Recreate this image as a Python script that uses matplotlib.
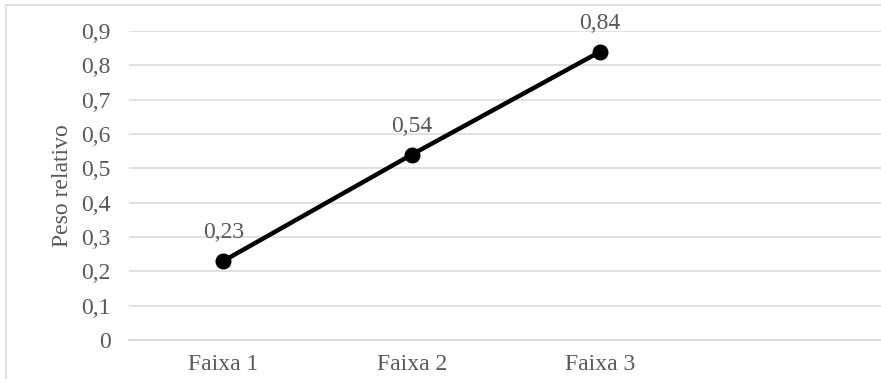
import matplotlib
matplotlib.use('Agg')
from matplotlib import pyplot as plt
from matplotlib.patches import Rectangle

categories = ['Faixa 1', 'Faixa 2', 'Faixa 3']
values = [0.23, 0.54, 0.84]
labels = ['0,23', '0,54', '0,84']
yticks = [0, 0.1, 0.2, 0.3, 0.4, 0.5, 0.6, 0.7, 0.8, 0.9]
ytick_labels = ['0', '0,1', '0,2', '0,3', '0,4', '0,5', '0,6', '0,7', '0,8', '0,9']

TEXT = '#595959'
GRID = '#d9d9d9'
W, H = 881, 379
FS = 17

plt.rcParams['font.family'] = ['Liberation Serif', 'DejaVu Serif']

fig = plt.figure(figsize=(W / 100, H / 100), dpi=100)

# light chart border, cropped at right and bottom like the original
fig.patches.append(Rectangle((6 / W, -0.1), 1.1, 1 - 5 / H + 0.1,
                             transform=fig.transFigure, fill=False,
                             edgecolor=GRID, linewidth=1.2))

ax = fig.add_axes([129 / W, 39 / H, (883 - 129) / W, (340 - 31) / H])
x = list(range(len(categories)))
ax.plot(x, values, color='black', linewidth=3.2, marker='o',
        markersize=10.5, zorder=3, clip_on=False)

for xi, v, lab in zip(x, values, labels):
    ax.annotate(lab, (xi, v), xytext=(0, 16.5), textcoords='offset points',
                ha='center', va='baseline', fontsize=FS, color=TEXT)

ax.set_xlim(-0.5, 3.5)
ax.set_ylim(0, 0.9)
ax.set_xticks(x)
ax.set_xticklabels(categories)
ax.set_yticks(yticks)
ax.set_yticklabels(ytick_labels)
ax.tick_params(axis='both', length=0, labelsize=FS, labelcolor=TEXT)
ax.tick_params(axis='y', pad=13)
ax.tick_params(axis='x', pad=10)
ax.grid(axis='y', color=GRID, linewidth=1.1)
ax.set_axisbelow(True)
for side in ['top', 'right', 'left']:
    ax.spines[side].set_visible(False)
ax.spines['bottom'].set_color(GRID)
ax.spines['bottom'].set_linewidth(1.1)

ax.set_ylabel('Peso relativo', fontsize=FS, color=TEXT, va='center')
ax.yaxis.set_label_coords((62 - 129) / (883 - 129), 0.5)

fig.savefig('out.png', dpi=100)
